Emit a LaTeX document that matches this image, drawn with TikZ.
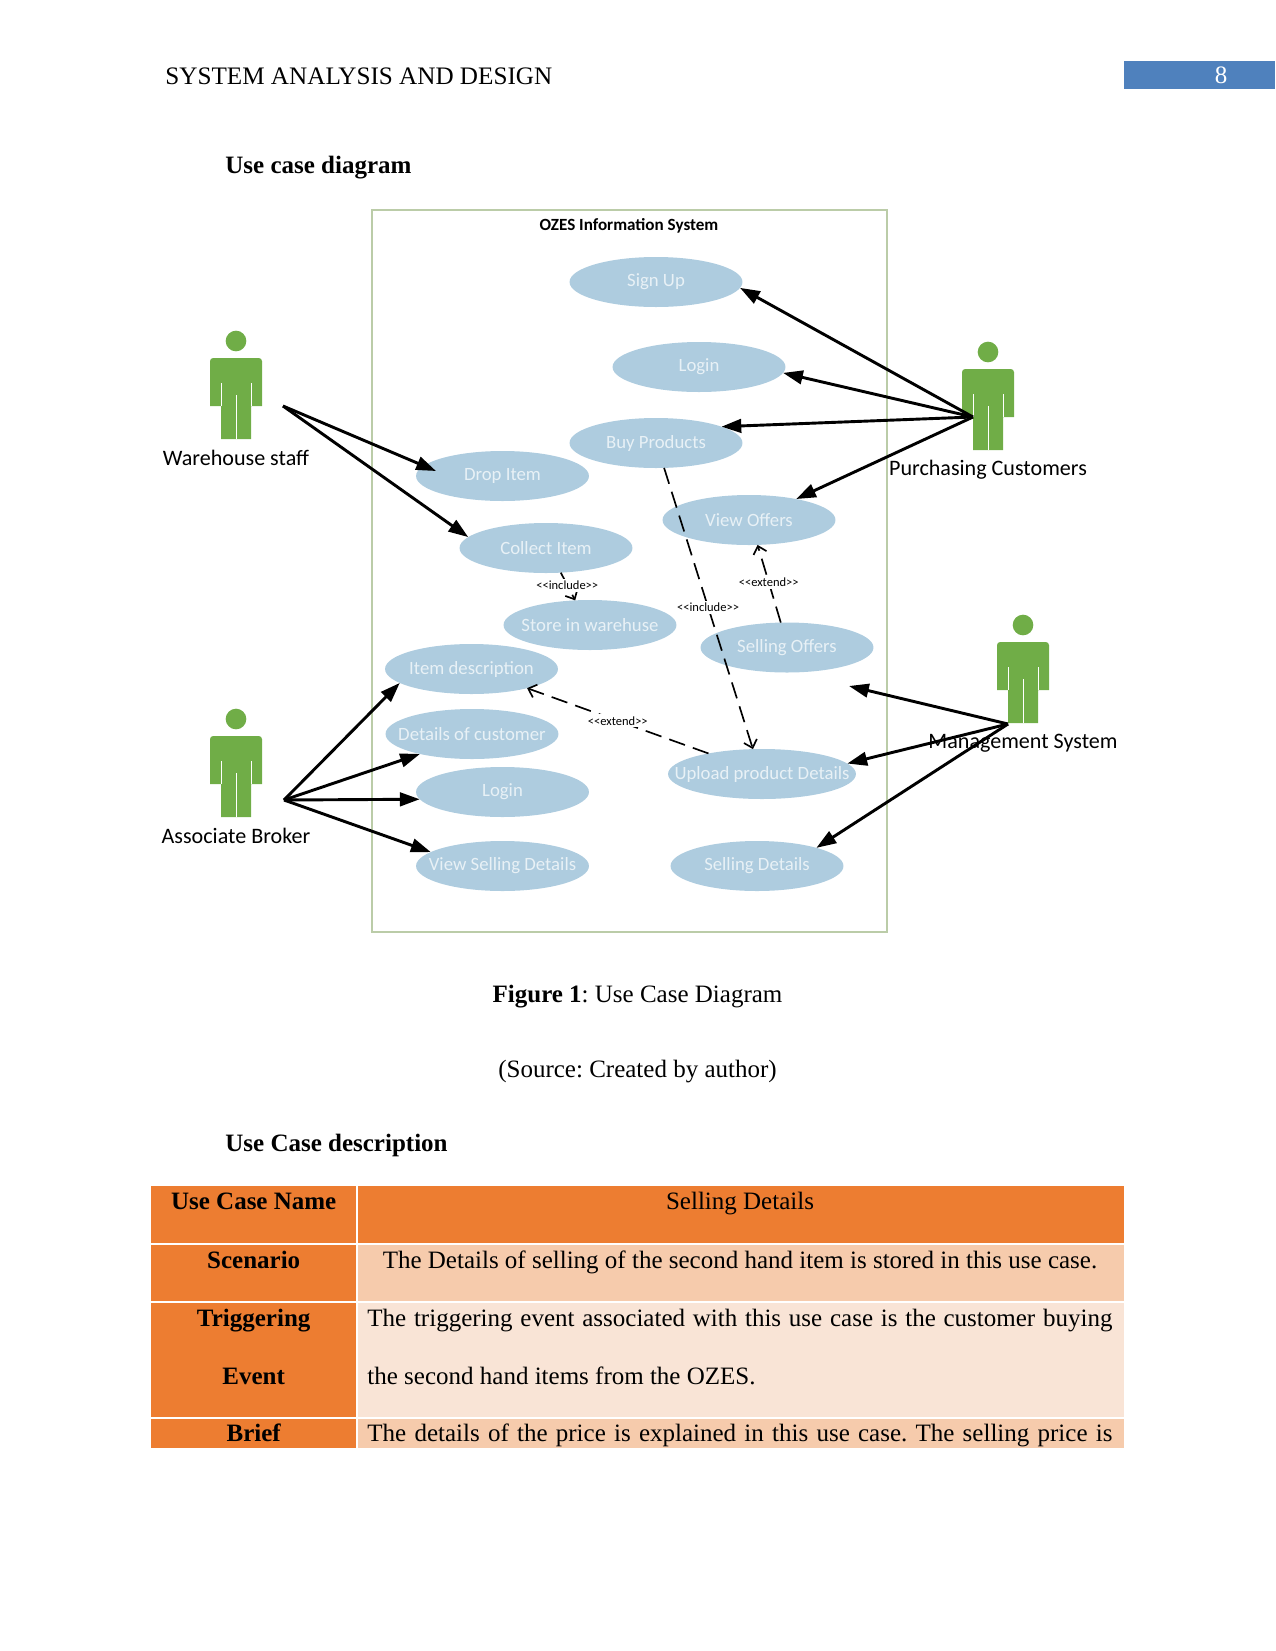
\documentclass[tikz,border=0pt]{standalone}
\usepackage{fontspec}
\setmainfont{Liberation Serif}
\setsansfont{Carlito}
\usetikzlibrary{arrows.meta,shapes.geometric,calc}
\frenchspacing

\definecolor{actorgreen}{HTML}{70AD47}
\definecolor{caseblue}{HTML}{AECCDF}
\definecolor{casetext}{HTML}{E8F1F6}
\definecolor{frameline}{HTML}{BBCCA8}
\definecolor{headblue}{HTML}{4F81BD}
\definecolor{cellorange}{HTML}{ED7D31}
\definecolor{cellmid}{HTML}{F6CBAC}
\definecolor{celllight}{HTML}{F9E4D6}

\begin{document}
\begin{tikzpicture}[
    x=0.48bp, y=-0.48bp,
    usecase/.style={ellipse, fill=caseblue, inner sep=0pt, outer sep=0pt, minimum width=83bp, minimum height=24bp,
      text=casetext, font=\sffamily\fontsize{9bp}{10bp}\selectfont},
    actorname/.style={font=\sffamily\fontsize{10.6bp}{12bp}\selectfont, inner sep=0pt},
    assoc/.style={-{Triangle[length=9.5bp,width=6.5bp]}, line width=1.4bp},
    dep/.style={-{Straight Barb[length=3.5bp,width=6.5bp]}, line width=.8bp, dash pattern=on 8bp off 4bp},
    deplabel/.style={fill=white, inner sep=1pt, font=\sffamily\fontsize{6bp}{7bp}\selectfont},
    pagetext/.style={anchor=base, inner sep=0pt, font=\fontsize{12bp}{14bp}\selectfont},
    cellfill/.style={inner sep=0pt, outer sep=0pt, anchor=north west},
  ]
  \useasboundingbox (0,0) rectangle (1275,1651);

  % --- Page header ---
  \node[pagetext, anchor=base west, font=\fontsize{12.08bp}{14bp}\selectfont] (runhead) at (165,84) {SYSTEM ANALYSIS AND DESIGN};
  \node[cellfill, fill=headblue, minimum width=72.4bp, minimum height=13.9bp] (pagebox) at (1124,60.5) {};
  \node[pagetext, text=white] (pageno) at (1221,83.7) {8};
  \node[pagetext, anchor=base west] (titlea) at (225,173.7) {\bfseries Use case diagram};

  % --- System frame ---
  \draw[frameline, line width=.65bp] (372,210) rectangle (887,932);
  \node[font=\sffamily\bfseries\fontsize{8.2bp}{9bp}\selectfont, inner sep=0pt] (sysname) at (629,226) {OZES Information System};

  % --- Use cases ---
  \foreach \nm/\cx/\cy/\txt in {
      signup/656/282/Sign Up, login/699/367/Login, buy/656/443/Buy Products,
      drop/502.5/476/Drop Item, viewoffers/749/520/View Offers, collect/546/548/Collect Item,
      store/590/625/Store in warehuse, selloffers/787/647.5/Selling Offers, itemdesc/471.5/669/Item description,
      custdet/472/734/Details of customer, loginb/502.5/792/Login, viewsell/502.5/866/View Selling Details,
      selldet/757/866/Selling Details}
    \node[usecase] (\nm) at (\cx,\cy) {\makebox[0pt]{\txt}};
  \node[usecase, minimum width=90.2bp] (upload) at (762,774) {\makebox[0pt]{Upload product Details}};

  % --- Actors ---
  \foreach \nm/\ax/\ay/\ly/\txt in {
      warehouse/236/341/116.5/Warehouse staff, customers/988/352/117.5/Purchasing Customers,
      mgmt/1023/625/118.5/Management System, broker/236/719/116.5/Associate Broker} {
    \begin{scope}[shift={(\ax,\ay)}]
      \node[circle, fill=actorgreen, inner sep=0pt, minimum size=9.9bp] (\nm-head) at (0,0) {};
      \fill[actorgreen] (-26,65) [rounded corners=1.5bp] -- (-26,17) -- (26,17) [sharp corners] -- (26,65)
        -- (15,65) -- (15,98) -- (-15,98) -- (-15,65) -- cycle;
      \draw[white, line width=.3bp] (0,54) -- (0,98) (-15,42) -- (-15,65) (15,42) -- (15,65);
      \node[actorname] (\nm-name) at (0,\ly) {\txt};
    \end{scope}
  }

  % Associations
  \coordinate (warehouse-hand) at (283,406);
  \coordinate (customers-hand) at (973,417);
  \coordinate (mgmt-hand) at (1008,724);
  \coordinate (broker-hand) at (284,800);
  \coordinate (drop-tip) at (436,471);
  \coordinate (selloffers-tip) at (849,686);
  \foreach \dst in {drop-tip, collect.172}
    \draw[assoc] (warehouse-hand) -- (\dst);
  \foreach \dst in {signup.-4, login.-4.7, buy.14.5, viewoffers.24}
    \draw[assoc] (customers-hand) -- (\dst);
  \foreach \dst in {itemdesc.191, custdet.201.5, loginb.185, viewsell.169}
    \draw[assoc] (broker-hand) -- (\dst);
  \foreach \dst in {selloffers-tip, upload.7, selldet.17}
    \draw[assoc] (mgmt-hand) -- (\dst);

  % Dependencies
  \draw[dep] (buy.-72) -- node[deplabel, pos=.495] (inclb) {<{}<include>{}>} (upload.110);
  \draw[dep] (selloffers.104) -- node[deplabel, pos=.52] (extb) {<{}<extend>{}>} (viewoffers.-71);
  \draw[dep] (upload.159) -- node[deplabel, pos=.5] (exta) {<{}<extend>{}>} (itemdesc.-19);
  \draw[dep] (collect.-59.5) -- node[deplabel, pos=.45] (incla) {<{}<include>{}>} (store.121);

  % --- Captions ---
  \node[pagetext] (figcap) at (637.5,1002) {\textbf{Figure 1}: Use Case Diagram};
  \node[pagetext] (figsrc) at (637.5,1077) {(Source: Created by author)};
  \node[pagetext, anchor=base west] (titleb) at (225,1151) {\bfseries Use Case description};

  % --- Table ---
  \foreach \nm/\ty/\rh/\cola in {
      rowa/1186/58/cellorange, rowb/1244/58/cellmid, rowc/1302/116/celllight, rowd/1418/29.7/cellmid} {
    \node[cellfill, fill=cellorange, minimum width=98.9bp, minimum height=\rh*0.48bp] (\nm-l) at (151,\ty) {};
    \node[cellfill, fill=\cola, minimum width=368.2bp, minimum height=\rh*0.48bp] (\nm-r) at (357,\ty) {};
  }
  \draw[white, line width=.5bp] (rowa-r.north west) -- (rowd-r.south west);
  \draw[white, line width=.5bp] (rowa-l.south west) -- (rowa-r.south east);
  \draw[white, line width=.5bp] (rowb-l.south west) -- (rowb-r.south east);
  \draw[white, line width=.5bp] (rowc-l.south west) -- (rowc-r.south east);

  \node[pagetext] (namea) at (253.7,1209.3) {\bfseries Use Case Name};
  \node[pagetext] (nameb) at (253.7,1268.7) {\bfseries Scenario};
  \node[pagetext] (namec) at (253.7,1326.7) {\bfseries Triggering};
  \node[pagetext] (named) at (253.7,1384.3) {\bfseries Event};
  \node[pagetext] (namee) at (253.7,1441.7) {\bfseries Brief};
  \node[pagetext] (texta) at (740,1209.3) {Selling Details};
  \node[pagetext] (textb) at (740,1268.7) {The Details of selling of the second hand item is stored in this use case.};
  \node[pagetext, anchor=base west] (textc) at (367,1326.7) {\makebox[357.6bp][s]{The triggering event associated with this use case is the customer buying}};
  \node[pagetext, anchor=base west] (textd) at (367,1384.3) {the second hand items from the OZES.};
  \node[pagetext, anchor=base west] (texte) at (367,1441.7) {\makebox[357.6bp][s]{The details of the price is explained in this use case. The selling price is}};
\end{tikzpicture}
\end{document}
